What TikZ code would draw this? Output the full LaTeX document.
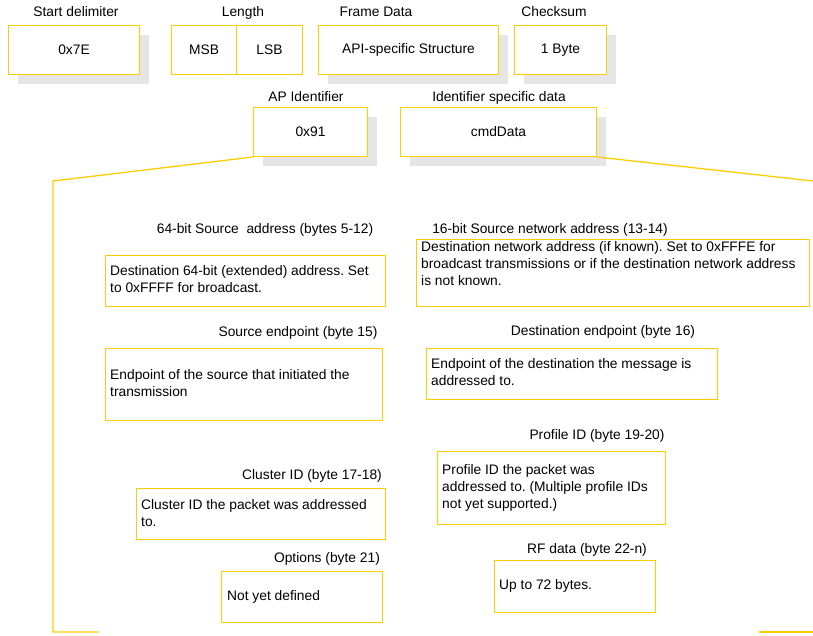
\documentclass[tikz,border=0pt]{standalone}
\usepackage{fontspec}
\setmainfont{Liberation Sans}
\frenchspacing
\definecolor{gold}{RGB}{255,204,0}
\definecolor{shade}{RGB}{229,229,229}
\begin{document}
\begin{tikzpicture}[x=1pt,y=-1pt,
  font=\fontsize{13.8}{17}\selectfont,
  fbox/.style={draw=gold, line width=1pt, fill=white, anchor=north west, inner sep=0pt},
  shadowbox/.style={fill=shade, draw=none, anchor=north west, inner sep=0pt},
  lbl/.style={anchor=base, inner sep=0pt},
  body/.style={anchor=base west, inner sep=0pt, align=left},
  link/.style={draw=gold, line width=1.3pt}]
\useasboundingbox (0,0) rectangle (813,635);

% shadows
\node[shadowbox, minimum width=131pt, minimum height=49pt] (sdS) at (18,35) {};
\node[shadowbox, minimum width=180pt, minimum height=49pt] (apiS) at (328,35) {};
\node[shadowbox, minimum width=92pt, minimum height=49pt] (cksS) at (524,35) {};
\node[shadowbox, minimum width=114pt, minimum height=49pt] (apidS) at (263,117) {};
\node[shadowbox, minimum width=196pt, minimum height=49pt] (cmdS) at (410,117) {};

% top frame boxes
\node[fbox, minimum width=131pt, minimum height=49pt] (sd) at (8,25) {};
\node at (sd.center) {0x7E};
\node[fbox, minimum width=65pt, minimum height=49pt] (msb) at (171,25) {};
\node at (msb.center) {MSB};
\node[fbox, minimum width=66pt, minimum height=49pt] (lsb) at (236,25) {};
\node at (lsb.center) {LSB};
\node[fbox, minimum width=180pt, minimum height=49pt] (api) at (318,25) {};
\node at (api.center) {API-specific Structure};
\node[fbox, minimum width=92pt, minimum height=49pt] (cks) at (514,25) {};
\node at (cks.center) {1 Byte};
\node[fbox, minimum width=114pt, minimum height=49pt] (apid) at (253,107) {};
\node at (apid.center) {0x91};
\node[fbox, minimum width=196pt, minimum height=49pt] (cmd) at (400,107) {};
\node at (cmd.center) {cmdData};

% top labels
\node[lbl] (lsd) at (76,16.5) {Start delimiter};
\node[lbl] (llen) at (243,16.5) {Length};
\node[lbl] (lfd) at (376,16.5) {Frame Data};
\node[lbl] (lcks) at (554,16.5) {Checksum};
\node[lbl] (lapid) at (306,101.5) {AP Identifier};
\node[lbl] (lcmd) at (499,101.5) {Identifier specific data};

% connectors
\coordinate (lt) at (53,181);
\coordinate (lb) at (53,632);
\coordinate (lbe) at (99,632);
\coordinate (rt) at (813,181);
\coordinate (rbs) at (759,632);
\coordinate (rbe) at (813,632);
\draw[link] (apid.south west) -- (lt) -- (lb) -- (lbe);
\draw[link] (cmd.south east) -- (rt);
\draw[link] (rbs) -- (rbe);

% detail boxes
\node[fbox, minimum width=280pt, minimum height=51pt] (b1) at (105,255) {};
\node[fbox, minimum width=393pt, minimum height=67pt] (b2) at (416,239) {};
\node[fbox, minimum width=277pt, minimum height=72pt] (b3) at (105,348) {};
\node[fbox, minimum width=291pt, minimum height=51pt] (b4) at (426,348) {};
\node[fbox, minimum width=228pt, minimum height=73pt] (b5) at (437,451) {};
\node[fbox, minimum width=249pt, minimum height=51pt] (b6) at (136,488) {};
\node[fbox, minimum width=161pt, minimum height=51pt] (b7) at (221,571) {};
\node[fbox, minimum width=161pt, minimum height=52pt] (b8) at (494,560) {};

% detail labels
\node[lbl] (l1) at (265,233.5) {64-bit Source~ address (bytes 5-12)};
\node[lbl] (l2) at (550,233.5) {16-bit Source network address (13-14)};
\node[lbl] (l3) at (298,336.5) {Source endpoint (byte 15)};
\node[lbl] (l4) at (603,335.5) {Destination endpoint (byte 16)};
\node[lbl] (l5) at (597,439.5) {Profile ID (byte 19-20)};
\node[lbl] (l6) at (312,479.5) {Cluster ID (byte 17-18)};
\node[lbl] (l7) at (327,562.5) {Options (byte 21)};
\node[lbl] (l8) at (587,553.5) {RF data (byte 22-n)};

% detail texts (anchored at the baseline of the last line)
\node[body] (t1) at (110,292) {Destination 64-bit (extended) address. Set\\to 0xFFFF for broadcast.};
\node[body] (t2) at (421,285.5) {Destination network address (if known). Set to 0xFFFE for\\broadcast transmissions or if the destination network address\\is not known.};
\node[body] (t3) at (110,396.5) {Endpoint of the source that initiated the\\transmission};
\node[body] (t4) at (431,385.5) {Endpoint of the destination the message is\\addressed to.};
\node[body] (t5) at (442,508.5) {Profile ID the packet was\\addressed to. (Multiple profile IDs\\not yet supported.)};
\node[body] (t6) at (141,526.5) {Cluster ID the packet was addressed\\to.};
\node[body] (t7) at (227,600.5) {Not yet defined};
\node[body] (t8) at (499,589.5) {Up to 72 bytes.};
\end{tikzpicture}
\end{document}
